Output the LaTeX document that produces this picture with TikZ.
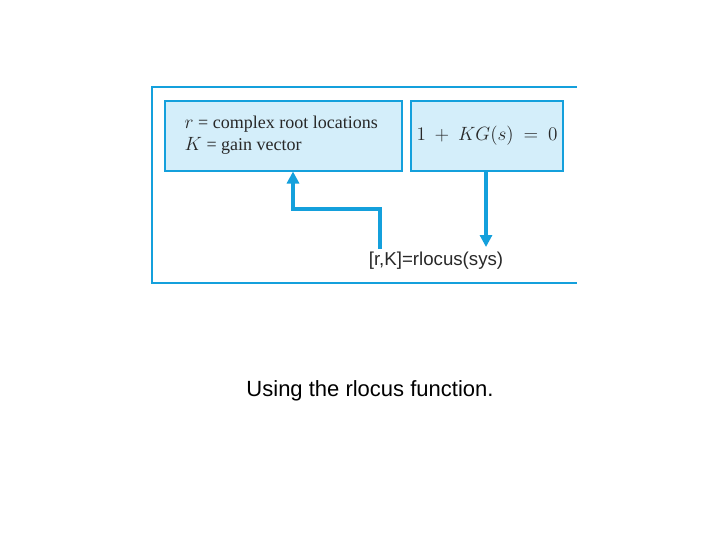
\documentclass[tikz,border=0pt]{standalone}
\usepackage{fontspec}
\setsansfont{Liberation Sans}
\setmainfont{Liberation Serif}
\usetikzlibrary{arrows.meta}
\definecolor{cb}{RGB}{20,160,220}
\definecolor{fillb}{RGB}{212,238,250}
\definecolor{tx}{RGB}{40,40,40}
\begin{document}
\begin{tikzpicture}[x=0.75pt,y=-0.75pt,
  box/.style={draw=cb,line width=1.5pt,fill=fillb,inner sep=0pt},
  conn/.style={draw=cb,line width=2.6pt,-{Triangle[length=9pt,width=9pt]}}]
\useasboundingbox (0,0) rectangle (720,540);
\draw[cb,line width=1.8pt] (577,87) -- (152,87) -- (152,283) -- (577,283);
\node[box,minimum width=237*0.75pt,minimum height=70*0.75pt] (b1) at (283.5,136) {};
\node[anchor=north west,align=left,text=tx,font=\fontsize{13.5}{17}\selectfont] (t1) at (180,111)
  {$r$ = complex root locations\\ $K$ = gain vector};
\node[box,text=tx,font=\fontsize{13.5}{16}\selectfont,minimum width=152*0.75pt,minimum height=70*0.75pt] (b2) at (487,136) {$1\ +\ KG(s)\ =\ 0$};
\node[font=\sffamily\fontsize{14}{16}\selectfont,text=tx] (cmd) at (436,261) {[r,K]=rlocus(sys)};
\coordinate (s1) at (380,249);
\draw[conn] (s1) -- (380,209) -- (293,209) -- (293,171.5);
\draw[conn] (486,171.5) -- (486,247);
\node[font=\sffamily\fontsize{16.5}{19}\selectfont] (cap) at (370,391) {Using the rlocus function.};
\end{tikzpicture}
\end{document}
